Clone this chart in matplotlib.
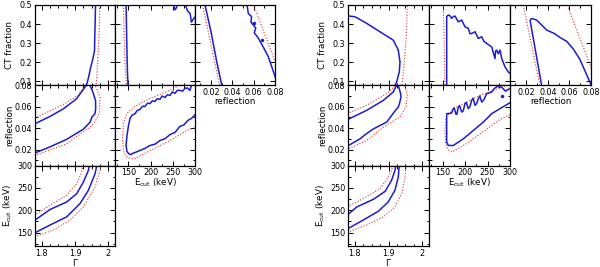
import matplotlib
matplotlib.use('Agg')
import matplotlib.pyplot as plt
from matplotlib.ticker import MultipleLocator, FixedLocator, NullLocator

# axis ranges / ticks for the four fit parameters
gam_lim = (1.78, 2.02)
gam_ticks = [1.8, 1.9, 2.0]
gam_labels = ['1.8', '1.9', '2']
ecut_lim = (120, 300)
ecut_ticks = [150, 200, 250, 300]
ecut_labels = ['150', '200', '250', '300']
refl_lim = (0.005, 0.08)
refl_ticks = [0.02, 0.04, 0.06, 0.08]
refl_labels = ['0.02', '0.04', '0.06', '0.08']
ct_lim = (0.08, 0.5)
ct_ticks = [0.08, 0.1, 0.2, 0.3, 0.4, 0.5]
ct_labels = ['', '0.1', '0.2', '0.3', '0.4', '0.5']  # 0.08 is printed by the reflection axis below

# ---- left corner plot: contours as (x, y) ----
# solid = inner (blue), dotted = outer (red)
L_gam_ct_in = [[(1.9615, 0.5), (1.9606, 0.42), (1.9594, 0.34), (1.9585, 0.26), (1.9525, 0.21),
                (1.9465, 0.17), (1.9405, 0.12), (1.9345, 0.08), (1.932, 0.07)]]
L_gam_ct_out = [[(1.974, 0.5), (1.973, 0.4), (1.971, 0.3), (1.968, 0.2), (1.965, 0.12), (1.963, 0.07)]]

L_ecut_ct_in = [[(145, 0.5), (146.5, 0.3), (148, 0.15), (149.5, 0.07)],
                [(250, 0.51), (255, 0.475), (258, 0.485), (261, 0.51)],
                [(277, 0.51), (283, 0.47), (289, 0.455), (292, 0.41), (296, 0.425), (301, 0.44)]]
L_ecut_ct_out = [[(139, 0.5), (141, 0.3), (143.5, 0.15), (146, 0.07)]]

L_refl_ct_in = [[(0.0144, 0.5), (0.02, 0.36), (0.0255, 0.2), (0.0305, 0.07)],
                [(0.0535, 0.51), (0.055, 0.455), (0.058, 0.44), (0.0575, 0.41), (0.062, 0.38),
                 (0.0605, 0.355), (0.064, 0.33), (0.069, 0.28), (0.0737, 0.23), (0.077, 0.176),
                 (0.081, 0.11)]]
L_refl_ct_out = [[(0.0122, 0.5), (0.0284, 0.07)], [(0.06, 0.5), (0.081, 0.19)]]
L_refl_ct_dots = [(0.0603, 0.405), (0.0678, 0.316)]

L_gam_refl_in = [[(1.77, 0.042), (1.78, 0.0441), (1.825, 0.0509), (1.865, 0.058), (1.905, 0.0675),
                  (1.93, 0.0784), (1.935, 0.08), (1.94, 0.085), (1.945, 0.08), (1.954, 0.0734),
                  (1.9615, 0.0659), (1.962, 0.0584), (1.96, 0.0535), (1.951, 0.0505),
                  (1.945, 0.0455), (1.925, 0.039), (1.875, 0.0295), (1.825, 0.0225),
                  (1.78, 0.0168), (1.77, 0.015)]]
L_gam_refl_out = [[(1.77, 0.048), (1.78, 0.0495), (1.825, 0.056), (1.87, 0.063), (1.91, 0.071),
                   (1.93, 0.08), (1.94, 0.09), (1.96, 0.08), (1.975, 0.069), (1.973, 0.0535),
                   (1.96, 0.046), (1.945, 0.041), (1.875, 0.0253), (1.78, 0.0144), (1.77, 0.013)]]

L_ecut_refl_in = [[(292.6, 0.081), (288.8, 0.0753), (283, 0.0775), (277.5, 0.0772), (272, 0.0745),
                   (266, 0.0753), (260, 0.0752), (255, 0.0725), (249, 0.0738), (243.8, 0.0705),
                   (238, 0.0712), (232.5, 0.0686), (226, 0.07), (221, 0.0668), (215, 0.0675),
                   (210, 0.0649), (204, 0.0655), (198.8, 0.063), (193, 0.0632), (187.5, 0.0602),
                   (182, 0.0605), (176, 0.0574), (170, 0.0565), (165, 0.0535), (158, 0.052),
                   (153.8, 0.0491), (150.4, 0.0425), (147, 0.0331), (144.8, 0.0238), (147, 0.0181),
                   (151, 0.016), (156, 0.0153), (160, 0.0165), (165, 0.0172), (176, 0.0191),
                   (187, 0.021), (198.8, 0.0238), (210, 0.025), (221, 0.0284), (232, 0.03),
                   (243.8, 0.034), (255, 0.036), (266, 0.0416), (275, 0.043), (284, 0.0472),
                   (292, 0.049), (301, 0.0528)]]
L_ecut_refl_out = [[(270, 0.081), (243.8, 0.0753), (198.8, 0.0678), (165, 0.0603), (147, 0.0538),
                    (138.7, 0.0444), (137, 0.0284), (139, 0.0191), (144, 0.014), (149, 0.0125),
                    (157, 0.0115), (165, 0.0116), (191, 0.0172), (243.8, 0.0284), (281, 0.0378),
                    (301, 0.0406)]]

L_gam_ecut_in = [[(1.77, 173), (1.78, 177.8), (1.825, 201.6), (1.875, 218.4), (1.905, 237),
                  (1.925, 262.9), (1.94, 288.9), (1.944, 302)],
                 [(1.77, 146), (1.78, 149.6), (1.825, 166.7), (1.875, 185.1), (1.915, 214.9),
                  (1.94, 244.4), (1.96, 281.5), (1.966, 302)]]
L_gam_ecut_out = [[(1.77, 185), (1.78, 188.9), (1.825, 211.1), (1.875, 233.3), (1.905, 259.3),
                   (1.92, 285.2), (1.924, 302)],
                  [(1.77, 137), (1.78, 140.7), (1.835, 155.6), (1.885, 177.8), (1.925, 207.4),
                   (1.96, 251.8), (1.975, 288.9), (1.978, 302)]]

# ---- right corner plot ----
R_gam_ct_in = [[(1.77, 0.442), (1.784, 0.442), (1.8007, 0.4386), (1.8354, 0.404), (1.8748, 0.36),
                (1.9142, 0.316), (1.929, 0.264), (1.934, 0.2024), (1.932, 0.15), (1.924, 0.097),
                (1.917, 0.07)]]
R_gam_ct_out = [[(1.956, 0.51), (1.953, 0.35), (1.949, 0.25), (1.944, 0.15), (1.939, 0.07)]]

R_ecut_ct_in = [[(159.3, 0.07), (159.3, 0.44), (162.9, 0.4475), (166, 0.445), (170.4, 0.43),
                 (174, 0.44), (177.8, 0.442), (185.1, 0.412), (192.7, 0.421), (200, 0.386),
                 (207.3, 0.378), (211, 0.35), (214.9, 0.351), (222.2, 0.36), (229.6, 0.325),
                 (237.1, 0.334), (242, 0.31), (248.2, 0.299), (259.3, 0.281), (263, 0.25),
                 (266.7, 0.22), (268, 0.26), (270.4, 0.264), (274, 0.245), (277.8, 0.264),
                 (281.6, 0.22), (288.9, 0.176), (296.2, 0.15), (301, 0.14)]]
R_ecut_ct_out = [[(151.9, 0.51), (155.5, 0.07)]]

R_refl_ct_in = [[(0.0346, 0.07), (0.0236, 0.42), (0.0251, 0.43), (0.0297, 0.421), (0.0328, 0.404),
                 (0.039, 0.369), (0.046, 0.351), (0.0513, 0.33), (0.0575, 0.31), (0.0636, 0.27),
                 (0.0698, 0.215), (0.076, 0.135), (0.0795, 0.09), (0.081, 0.07)]]
R_refl_ct_out = [[(0.0173, 0.5), (0.033, 0.07)], [(0.058, 0.5), (0.081, 0.16)]]

R_gam_refl_in = [[(1.77, 0.047), (1.784, 0.0488), (1.8354, 0.0566), (1.8846, 0.0659), (1.914, 0.0737),
                  (1.924, 0.08), (1.927, 0.083), (1.929, 0.08), (1.9356, 0.0725), (1.937, 0.0688),
                  (1.9326, 0.0631), (1.929, 0.0597), (1.916, 0.0547), (1.8947, 0.0456),
                  (1.875, 0.0425), (1.855, 0.0392), (1.8354, 0.035), (1.8156, 0.03), (1.78, 0.0235),
                  (1.77, 0.022)]]
R_gam_refl_out = [[(1.77, 0.052), (1.78, 0.054), (1.8354, 0.0613), (1.8947, 0.0722), (1.922, 0.08),
                   (1.935, 0.09), (1.949, 0.08), (1.9557, 0.0706), (1.9519, 0.0597), (1.934, 0.0503),
                   (1.8846, 0.0409), (1.8354, 0.0284), (1.78, 0.0205), (1.77, 0.019)]]

R_ecut_refl_in = [[(301, 0.077), (295, 0.076), (290, 0.0745), (282, 0.078), (272, 0.079), (265, 0.077),
                   (259.3, 0.0737), (248.2, 0.0722), (242, 0.0665), (237.1, 0.0643), (233, 0.07),
                   (229.6, 0.0675), (226, 0.063), (222.2, 0.0613), (218, 0.068), (214.9, 0.0659),
                   (211, 0.06), (207.3, 0.0582), (203, 0.064), (200, 0.0628), (196, 0.056),
                   (192.7, 0.055), (188, 0.061), (185.1, 0.0597), (182, 0.053), (180, 0.0528),
                   (176, 0.059), (174, 0.0582), (170, 0.054), (166.7, 0.0538), (159.3, 0.0535),
                   (159.3, 0.0269), (163, 0.0238), (174, 0.0238), (196.2, 0.03), (218.4, 0.0378),
                   (240.7, 0.0456), (259.3, 0.0535), (277.8, 0.0582), (296.2, 0.0628), (301, 0.064)]]
R_ecut_refl_out = [[(301, 0.081), (292.7, 0.08), (277.8, 0.0777), (262.9, 0.0753), (233.3, 0.0706),
                    (203.8, 0.0643), (174, 0.0582), (157.8, 0.0503), (155.6, 0.0378), (156.7, 0.0256),
                    (162.2, 0.02), (171, 0.0175), (203.8, 0.0256), (240.7, 0.0369), (277.8, 0.0481),
                    (301, 0.0528)]]
R_ecut_refl_dots = [(282.8, 0.07)]

R_gam_ecut_in = [[(1.77, 187), (1.781, 191.1), (1.806, 207.3), (1.855, 224.4), (1.89, 242.2),
                  (1.909, 266.7), (1.919, 288.9), (1.922, 302)],
                 [(1.77, 155), (1.781, 159.3), (1.825, 177.8), (1.87, 197.8), (1.899, 218.4),
                  (1.919, 244.4), (1.929, 274), (1.932, 302)]]
R_gam_ecut_out = [[(1.77, 205), (1.781, 208.9), (1.825, 226), (1.875, 248.2), (1.899, 274),
                   (1.909, 288.9), (1.913, 302)],
                  [(1.77, 148), (1.781, 151.1), (1.835, 166.7), (1.885, 185.1), (1.919, 207.3),
                   (1.939, 237.1), (1.949, 274), (1.952, 302)]]

BLUE = '#1c1cd0'
RED = '#e03030'

axis_info = {
    'gam': (gam_lim, gam_ticks, gam_labels, 0.025, r'$\Gamma$'),
    'ecut': (ecut_lim, ecut_ticks, ecut_labels, 25, r'E$_{\rm cut}$ (keV)'),
    'refl': (refl_lim, refl_ticks, refl_labels, 0.01, 'reflection'),
    'ct': (ct_lim, ct_ticks, ct_labels, None, 'CT fraction'),
}

plt.rcParams['font.family'] = 'DejaVu Sans'
plt.rcParams['font.size'] = 5.8

fig = plt.figure(figsize=(6.0, 2.67), dpi=100)
W, H = 600.0, 267.0


def setup_axis(axis, key, show):
    lim, ticks, labels, minor, _ = axis_info[key]
    axis.set_major_locator(FixedLocator(ticks))
    if minor:
        axis.set_minor_locator(MultipleLocator(minor))
    else:
        axis.set_minor_locator(NullLocator())
    if show:
        axis.set_ticklabels(labels)
    else:
        axis.set_ticklabels([])


def draw_corner(x0, pw, sets):
    top, ph = 5.0, 80.3
    # (row, col, xkey, ykey, inner, outer, dots)
    for row, col, xk, yk, inner, outer, dots in sets:
        rect = [(x0 + col * pw) / W, 1 - (top + (row + 1) * ph) / H, pw / W, ph / H]
        ax = fig.add_axes(rect)
        for c in outer:
            ax.plot([p[0] for p in c], [p[1] for p in c], color=RED, lw=0.8, ls=(0, (1, 1.6)))
        for c in inner:
            ax.plot([p[0] for p in c], [p[1] for p in c], color=BLUE, lw=1.1)
        if dots:
            ax.plot([p[0] for p in dots], [p[1] for p in dots], 'o', color=BLUE, ms=1.5)
        ax.set_xlim(axis_info[xk][0])
        ax.set_ylim(axis_info[yk][0])
        showx = (row + col == 2)
        showy = (col == 0)
        setup_axis(ax.xaxis, xk, showx)
        setup_axis(ax.yaxis, yk, showy)
        ax.tick_params(which='both', direction='in', top=True, right=True, width=0.7, pad=2)
        ax.tick_params(which='major', length=3.5)
        ax.tick_params(which='minor', length=1.8)
        for s in ax.spines.values():
            s.set_linewidth(0.9)
        if showx:
            ax.set_xlabel(axis_info[xk][4], fontsize=6.3)
            ax.xaxis.set_label_coords(0.5, -0.14)
        if showy:
            ax.set_ylabel(axis_info[yk][4], fontsize=6.3)
            ax.yaxis.set_label_coords(-0.26, 0.5)


left_sets = [
    (0, 0, 'gam', 'ct', L_gam_ct_in, L_gam_ct_out, None),
    (0, 1, 'ecut', 'ct', L_ecut_ct_in, L_ecut_ct_out, None),
    (0, 2, 'refl', 'ct', L_refl_ct_in, L_refl_ct_out, L_refl_ct_dots),
    (1, 0, 'gam', 'refl', L_gam_refl_in, L_gam_refl_out, None),
    (1, 1, 'ecut', 'refl', L_ecut_refl_in, L_ecut_refl_out, None),
    (2, 0, 'gam', 'ecut', L_gam_ecut_in, L_gam_ecut_out, None),
]
right_sets = [
    (0, 0, 'gam', 'ct', R_gam_ct_in, R_gam_ct_out, None),
    (0, 1, 'ecut', 'ct', R_ecut_ct_in, R_ecut_ct_out, None),
    (0, 2, 'refl', 'ct', R_refl_ct_in, R_refl_ct_out, None),
    (1, 0, 'gam', 'refl', R_gam_refl_in, R_gam_refl_out, None),
    (1, 1, 'ecut', 'refl', R_ecut_refl_in, R_ecut_refl_out, R_ecut_refl_dots),
    (2, 0, 'gam', 'ecut', R_gam_ecut_in, R_gam_ecut_out, None),
]

draw_corner(35, 80, left_sets)
draw_corner(348, 81, right_sets)

fig.savefig('out.png', dpi=100)
